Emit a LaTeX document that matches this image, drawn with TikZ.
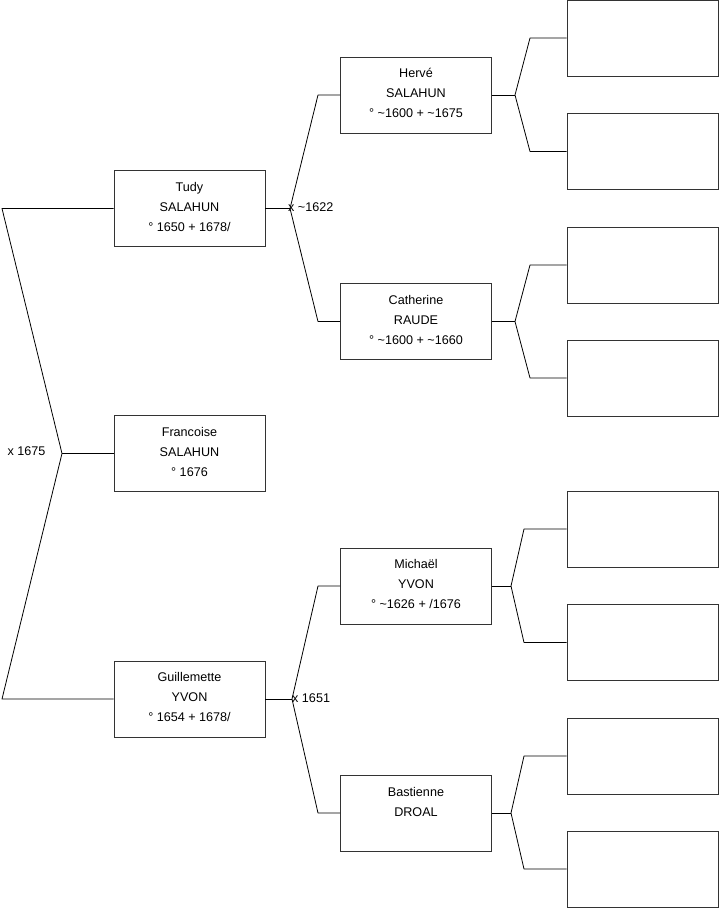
\documentclass[tikz,border=0pt]{standalone}
\usepackage{fontspec}
\setmainfont{Liberation Sans}
\begin{document}
\begin{tikzpicture}[x=1pt,y=-1pt,
  person/.style={draw=black!80, line width=0.8pt, fill=white, minimum width=151pt, minimum height=76pt, inner sep=0pt},
  ptext/.style={inner sep=0pt, align=center, font=\fontsize{12.6}{20}\selectfont},
  link/.style={draw=black, line width=0.8pt, line join=round},
  lab/.style={font=\fontsize{12.6}{14}\selectfont, inner sep=0pt}]
\useasboundingbox (0,0) rectangle (719,908);
% column 1
\node[person] (tudy) at (189.5,208.5) {};
\node[person] (fran) at (189.5,453.5) {};
\node[person] (guil) at (189.5,699) {};
% column 2
\node[person] (herve) at (416,95) {};
\node[person] (cath) at (416,321.5) {};
\node[person] (mich) at (416,586) {};
\node[person] (bast) at (416,813) {};
% texts
\node[ptext] (tudy-t) at ([yshift=2pt]tudy.center) {Tudy\\SALAHUN\\° 1650 + 1678/};
\node[ptext] (fran-t) at ([yshift=2pt]fran.center) {Francoise\\SALAHUN\\° 1676};
\node[ptext] (guil-t) at ([yshift=2pt]guil.center) {Guillemette\\YVON\\° 1654 + 1678/};
\node[ptext] (herve-t) at ([yshift=2pt]herve.center) {Hervé\\SALAHUN\\° \textasciitilde1600 + \textasciitilde1675};
\node[ptext] (cath-t) at ([yshift=2pt]cath.center) {Catherine\\RAUDE\\° \textasciitilde1600 + \textasciitilde1660};
\node[ptext] (mich-t) at ([yshift=2pt]mich.center) {Michaël\\YVON\\° \textasciitilde1626 + /1676};
\node[ptext] (bast-t) at ([yshift=-2pt]bast.center) {Bastienne\\DROAL\\\strut};
% column 3
\node[person] (g1) at (642.5,38) {};
\node[person] (g2) at (642.5,151.5) {};
\node[person] (g3) at (642.5,265) {};
\node[person] (g4) at (642.5,378) {};
\node[person] (g5) at (642.5,529) {};
\node[person] (g6) at (642.5,642.5) {};
\node[person] (g7) at (642.5,756) {};
\node[person] (g8) at (642.5,869) {};
% left bracket
\coordinate (a1) at (2,208.5);
\coordinate (j1) at (62,453.5);
\coordinate (a2) at (2,699);
\draw[link] (tudy.west) -- (a1) -- (j1) -- (a2) -- (guil.west);
\draw[link] (j1) -- (fran.west);
\node[lab] (l1675) at (26.5,451) {x 1675};
% Tudy parents
\coordinate (j2) at (290,208.5);
\coordinate (b1) at (318,95);
\coordinate (b2) at (318,321.5);
\draw[link] (tudy.east) -- (j2);
\draw[link] (herve.west) -- (b1) -- (j2) -- (b2) -- (cath.west);
\node[lab, anchor=west] (l1622) at (288,207) {x \textasciitilde1622};
% Guillemette parents
\coordinate (j3) at (292,699);
\coordinate (c1) at (318,586);
\coordinate (c2) at (318,813);
\draw[link] (guil.east) -- (j3);
\draw[link] (mich.west) -- (c1) -- (j3) -- (c2) -- (bast.west);
\node[lab, anchor=west] (l1651) at (292,698) {x 1651};
% Hervé parents
\coordinate (j4) at (515,95);
\draw[link] (herve.east) -- (j4);
\draw[link] (g1.west) -- (530,38) -- (j4) -- (530,151.5) -- (g2.west);
% Catherine parents
\coordinate (j5) at (515,321.5);
\draw[link] (cath.east) -- (j5);
\draw[link] (g3.west) -- (530,265) -- (j5) -- (530,378) -- (g4.west);
% Michaël parents
\coordinate (j6) at (511,586);
\draw[link] (mich.east) -- (j6);
\draw[link] (g5.west) -- (524,529) -- (j6) -- (524,642.5) -- (g6.west);
% Bastienne parents
\coordinate (j7) at (511,813);
\draw[link] (bast.east) -- (j7);
\draw[link] (g7.west) -- (524,756) -- (j7) -- (524,869) -- (g8.west);
\end{tikzpicture}
\end{document}
